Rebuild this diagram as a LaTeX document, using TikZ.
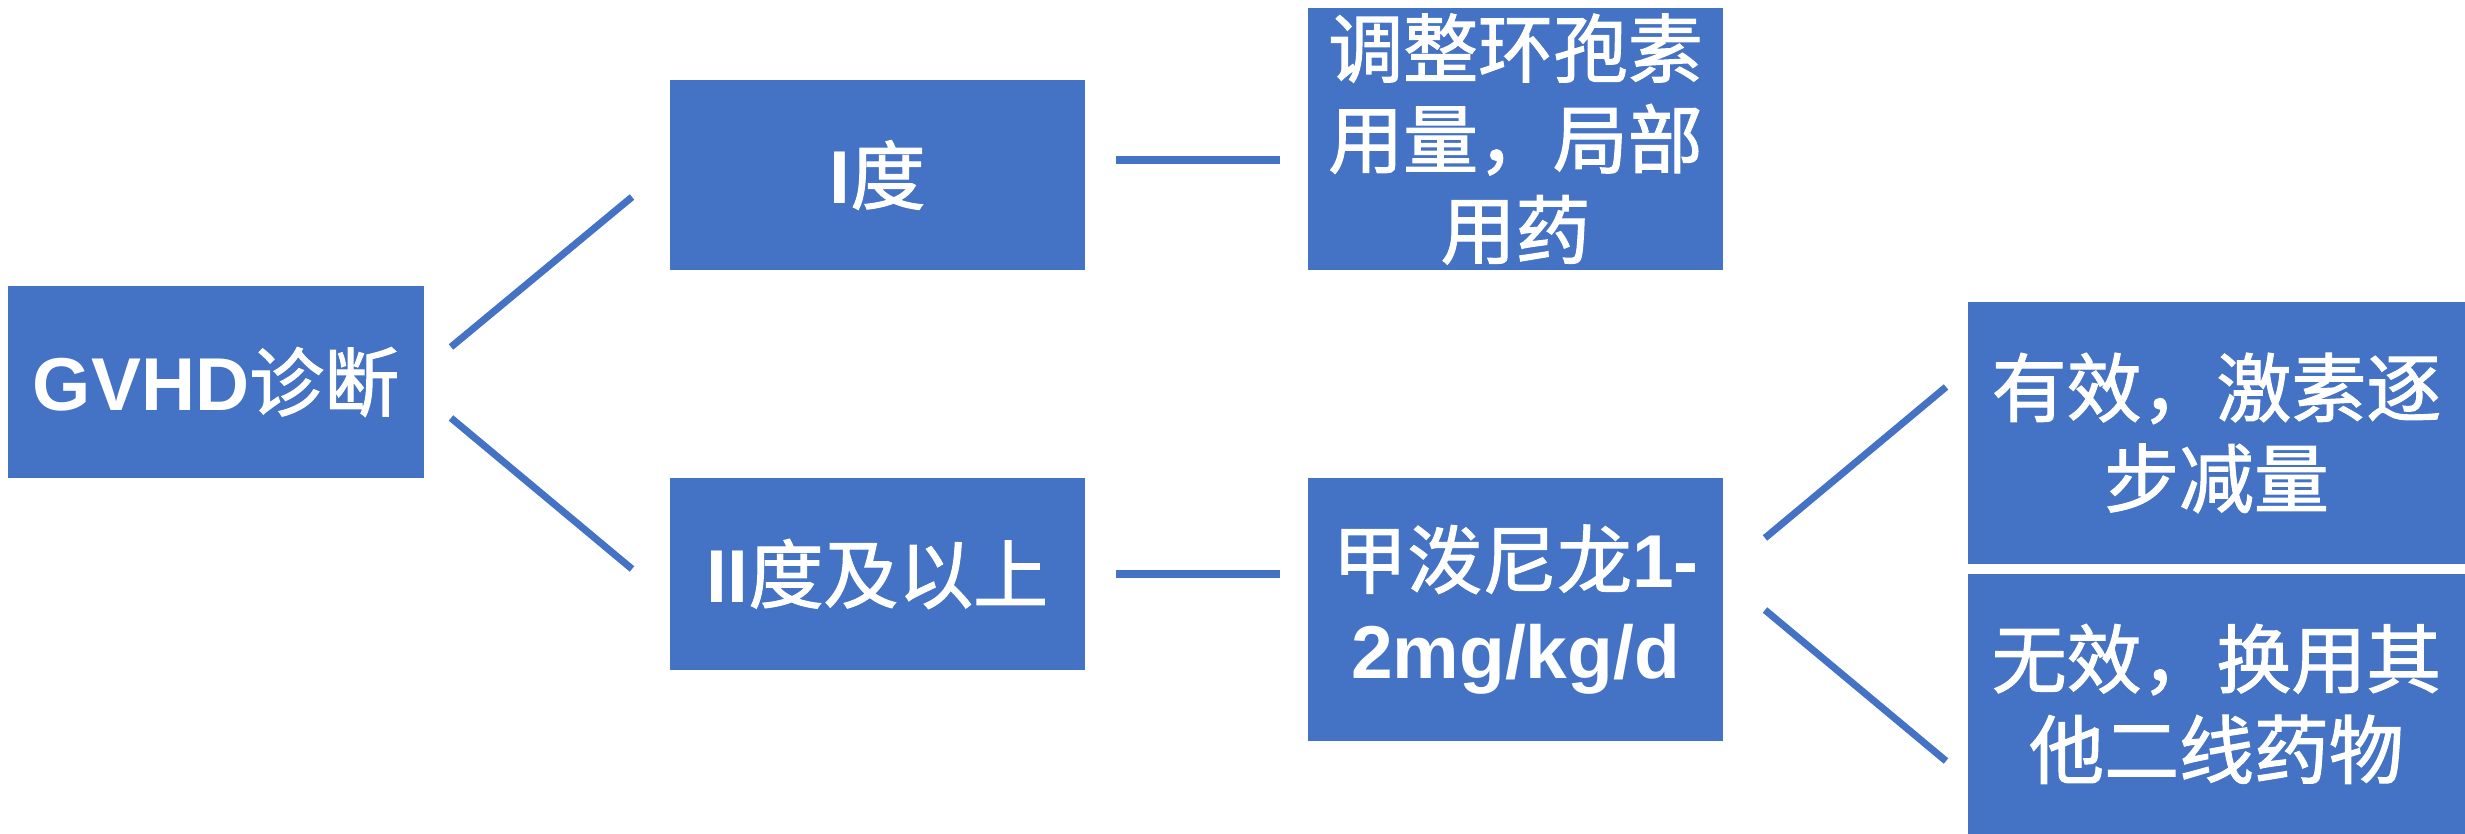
\documentclass[tikz,border=0pt]{standalone}
\usepackage{fontspec}
\setmainfont{Liberation Sans}
\newfontfamily\cjk[FakeBold=1.5]{Noto Sans CJK SC}
\newcommand\zh[1]{{\cjk\mdseries #1}}
\definecolor{boxblue}{HTML}{4472C4}
\begin{document}
\begin{tikzpicture}[x=0.01cm,y=-0.01cm,
  box/.style={fill=boxblue, draw=none, text=white, align=center, inner sep=0pt,
    font=\fontsize{21.3}{25.8}\selectfont\bfseries},
  link/.style={draw=boxblue, line width=2pt}]
\useasboundingbox (0,0) rectangle (2465,834);
\node[box, minimum width=4.16cm, minimum height=1.92cm] (a) at (216,382) {GVHD\zh{诊断}};
\node[box, minimum width=4.15cm, minimum height=1.90cm] (b) at (877.5,175) {I\zh{度}};
\node[box, minimum width=4.15cm, minimum height=1.92cm] (c) at (877.5,574) {II\zh{度及以上}};
\node[box, minimum width=4.15cm, minimum height=2.62cm] (d) at (1515.5,139) {\zh{调整环孢素}\\\zh{用量，局部}\\\zh{用药}};
\node[box, minimum width=4.15cm, minimum height=2.63cm] (e) at (1515.5,609.5) {\zh{甲泼尼龙}1-\\2mg/kg/d};
\node[box, minimum width=4.97cm, minimum height=2.62cm] (f) at (2216.5,433) {\zh{有效，激素逐}\\\zh{步减量}};
\node[box, minimum width=4.97cm, minimum height=2.60cm] (g) at (2216.5,704) {\zh{无效，换用其}\\\zh{他二线药物}};
\coordinate (ab1) at (451,347);  \coordinate (ab2) at (632,197);
\coordinate (ac1) at (451,418);  \coordinate (ac2) at (632,569);
\coordinate (bd1) at (1116,160); \coordinate (bd2) at (1280,160);
\coordinate (ce1) at (1116,574); \coordinate (ce2) at (1280,574);
\coordinate (ef1) at (1765,538); \coordinate (ef2) at (1946,387);
\coordinate (eg1) at (1765,610); \coordinate (eg2) at (1946,761);
\draw[link] (ab1) -- (ab2);
\draw[link] (ac1) -- (ac2);
\draw[link] (bd1) -- (bd2);
\draw[link] (ce1) -- (ce2);
\draw[link] (ef1) -- (ef2);
\draw[link] (eg1) -- (eg2);
\end{tikzpicture}
\end{document}
